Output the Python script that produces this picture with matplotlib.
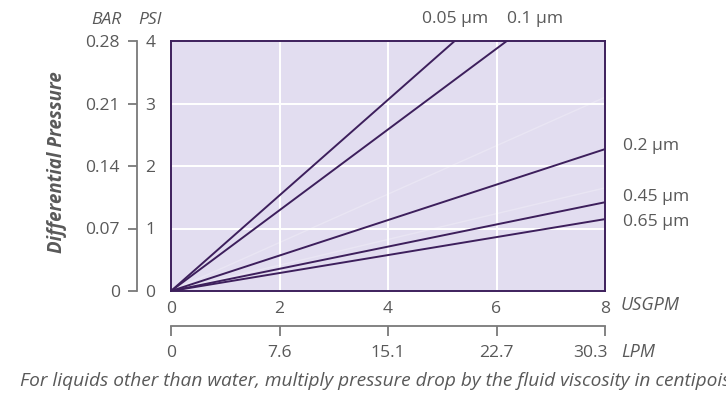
import matplotlib
matplotlib.use("Agg")
import matplotlib.pyplot as plt
from matplotlib.transforms import ScaledTranslation

plt.rcParams['font.family'] = ['Open Sans', 'DejaVu Sans']

# Flow range (US gallons per minute) and the matching litres-per-minute labels
flow_gpm = [0, 8]
gpm_ticks = [0, 2, 4, 6, 8]
lpm_labels = ['0', '7.6', '15.1', '22.7', '30.3']

# Pressure scale: PSI ticks with the equivalent BAR labels
psi_ticks = [0, 1, 2, 3, 4]
bar_labels = ['0', '0.07', '0.14', '0.21', '0.28']

# Pressure drop (psi) at 8 USGPM for each pore size; curves are linear from the origin
pore_sizes = ['0.05 µm', '0.1 µm', '0.2 µm', '0.45 µm', '0.65 µm']
psi_at_8gpm = [6.12, 5.17, 2.27, 1.42, 1.15]
label_ha = ['center', 'left', 'left', 'left', 'left']
label_dy = [0, 0, 2, 3.5, -2]   # small vertical nudges (points) for the right-hand labels

# Faint background curves
faint_psi_at_8gpm = [3.10, 1.65]

TEXT = '#595959'
AXIS_GRAY = '#7a7a7a'
PURPLE = '#3d1f5c'
BG = '#e2ddf0'
FS = 12.6

fig = plt.figure(figsize=(7.26, 4.0), dpi=100)
ax = fig.add_axes([171 / 726, 109 / 400, 434 / 726, 250 / 400])
ax.set_facecolor(BG)
ax.set_xlim(0, 8)
ax.set_ylim(0, 4)

for s in ax.spines.values():
    s.set_color(PURPLE)
    s.set_linewidth(1.4)

ax.set_xticks(gpm_ticks)
ax.set_xticklabels([str(t) for t in gpm_ticks])
ax.set_yticks(psi_ticks)
ax.tick_params(axis='x', length=0, pad=7, labelsize=FS, labelcolor=TEXT)
ax.tick_params(axis='y', length=0, labelleft=False)
ax.grid(True, color='white', linewidth=1.4)
ax.set_axisbelow(True)

for p in faint_psi_at_8gpm:
    ax.plot(flow_gpm, [0, p], color='white', alpha=0.25, linewidth=1.0, zorder=2)

for name, p, ha, dy in zip(pore_sizes, psi_at_8gpm, label_ha, label_dy):
    ax.plot(flow_gpm, [0, p], color=PURPLE, linewidth=1.4, zorder=3)
    if p > 4:
        x_exit = 4 * 8 / p
        ax.annotate(name, xy=(x_exit, 4), xytext=(0, 16), textcoords='offset points',
                    ha=ha, va='center', fontsize=FS, color=TEXT)
    else:
        ax.annotate(name, xy=(8, p), xytext=(13, dy), textcoords='offset points',
                    ha=ha, va='center', fontsize=FS, color=TEXT)

# Left pressure scale (BAR labels on the left of the gray rule, PSI on the right)
loc = (137 - 171) / 434
bar_ax = ax.secondary_yaxis(loc)
bar_ax.set_yticks(psi_ticks)
bar_ax.set_yticklabels(bar_labels)
bar_ax.spines['left'].set_color(AXIS_GRAY)
bar_ax.spines['left'].set_linewidth(1.3)
bar_ax.tick_params(axis='y', direction='out', length=6.5, width=1.3, color=AXIS_GRAY,
                   labelsize=FS, labelcolor=TEXT, pad=6)

psi_ax = ax.secondary_yaxis(loc)
psi_ax.set_alignment('right')
psi_ax.spines['right'].set_visible(False)
psi_ax.spines['left'].set_visible(False)
psi_ax.set_yticks(psi_ticks)
psi_ax.set_yticklabels([str(t) for t in psi_ticks])
psi_ax.tick_params(axis='y', length=0, labelsize=FS, labelcolor=TEXT, pad=6)

# Lower flow scale in LPM
lpm_ax = ax.secondary_xaxis((291 - 326) / 250)
lpm_ax.set_xticks(gpm_ticks)
lpm_ax.set_xticklabels(lpm_labels)
lpm_ax.spines['bottom'].set_color(AXIS_GRAY)
lpm_ax.spines['bottom'].set_linewidth(1.3)
lpm_ax.tick_params(axis='x', direction='out', length=7.5, width=1.3, color=AXIS_GRAY,
                   labelsize=FS, labelcolor=TEXT, pad=6)
last = lpm_ax.get_xticklabels()[-1]
last.set_ha('right')
last.set_transform(last.get_transform() + ScaledTranslation(3 / 100, 0, fig.dpi_scale_trans))

# Unit captions
fig.text(122 / 726, 1 - 20 / 400, 'BAR', ha='right', va='center', fontsize=FS,
         style='italic', color=TEXT)
fig.text(138 / 726, 1 - 20 / 400, 'PSI', ha='left', va='center', fontsize=FS,
         style='italic', color=TEXT)
fig.text(621 / 726, 1 - 305 / 400, 'USGPM', ha='left', va='center', fontsize=FS + 0.4,
         style='italic', color=TEXT)
fig.text(621 / 726, 1 - 352 / 400, 'LPM', ha='left', va='center', fontsize=FS + 0.4,
         style='italic', color=TEXT)

fig.text(57 / 726, 1 - 162 / 400, 'Differential Pressure', rotation=90, ha='center',
         va='center', fontsize=13.4, style='italic', weight='bold', color=TEXT)

fig.text(20 / 726, 1 - 381 / 400,
         'For liquids other than water, multiply pressure drop by the fluid viscosity in centipoise.',
         ha='left', va='center', fontsize=13.8, style='italic', color=TEXT)

fig.savefig('out.png', dpi=100)
